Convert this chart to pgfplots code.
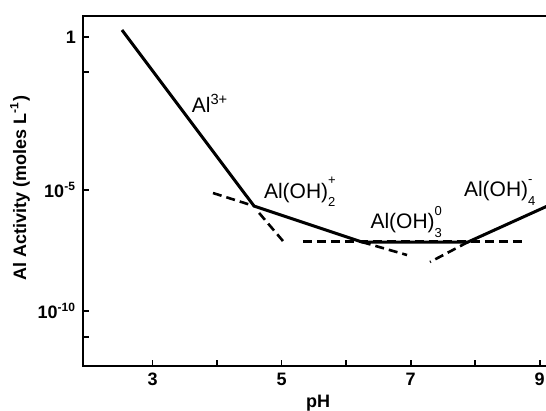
\documentclass[border=0pt]{standalone}
\usepackage{pgfplots}
\pgfplotsset{compat=1.18}
\usepackage{fontspec}
\setmainfont{Liberation Sans}
\newcommand\supsub[2]{\rlap{\raisebox{0.62em}{\fontsize{6.5}{7}\selectfont #1}}\raisebox{-0.42em}{\fontsize{6.5}{7}\selectfont #2}}
\begin{document}
\begin{tikzpicture}
\begin{axis}[
  at={(0,0)}, anchor=south west, scale only axis,
  width=244.5pt, height=175pt,
  xmin=1.92, xmax=9.5, ymin=-10.75, ymax=0.686,
  axis line style={line width=1pt},
  tick align=inside,
  xtick={3,5,7,9}, minor xtick={4,6,8},
  ytick={0,-5,-8.954}, yticklabels={1,10\textsuperscript{-5},10\textsuperscript{-10}},
  minor ytick={-1.14,-9.8},
  major tick length=3pt, minor tick length=3pt,
  every tick/.style={line width=0.8pt, black},
  xtick pos=bottom, ytick pos=left,
  tick label style={font=\bfseries\fontsize{9}{10}\selectfont},
  /pgf/number format/assume math mode=true,
  clip=false,
]
\addplot[line width=1.5pt] coordinates {(2.524,0.229) (4.571,-5.523) (6.243,-6.699) (7.888,-6.699) (9.3,-5.35)};
\addplot[line width=1.3pt, dash pattern=on 4.5pt off 2.5pt] coordinates {(3.935,-5.098) (4.571,-5.523)};
\addplot[line width=1.3pt, dash pattern=on 4.5pt off 2.5pt] coordinates {(4.65,-5.75) (5.020,-6.667)};
\addplot[line width=1.3pt, dash pattern=on 4.5pt off 2.5pt] coordinates {(5.330,-6.69) (8.726,-6.69)};
\addplot[line width=1.3pt, dash pattern=on 4.5pt off 2.5pt] coordinates {(6.243,-6.699) (6.943,-7.124)};
\addplot[line width=1.3pt, dash pattern=on 4.5pt off 2.5pt] coordinates {(7.888,-6.699) (7.299,-7.353)};
\node[font=\fontsize{10.5}{12}\selectfont] at (axis cs:3.89,-2.16) {Al\textsuperscript{3+}};
\node[font=\fontsize{10.5}{12}\selectfont] at (axis cs:5.28,-5.07) {Al(OH)\supsub{+}{2}};
\node[font=\fontsize{10.5}{12}\selectfont] at (axis cs:6.93,-6.05) {Al(OH)\supsub{0}{3}};
\node[font=\fontsize{10.5}{12}\selectfont] at (axis cs:8.38,-5.07) {Al(OH)\supsub{-}{4}};
\end{axis}
\node[rotate=90, font=\bfseries\fontsize{9}{10}\selectfont] at (-31.5pt,89pt) {Al Activity (moles L\textsuperscript{-1})};
\node[font=\bfseries\fontsize{9}{10}\selectfont] at (117.5pt,-18.5pt) {pH};
\pgfresetboundingbox
\path[use as bounding box] (-41.5pt,-22.5pt) rectangle (231.5pt,183pt);
\end{tikzpicture}
\end{document}
